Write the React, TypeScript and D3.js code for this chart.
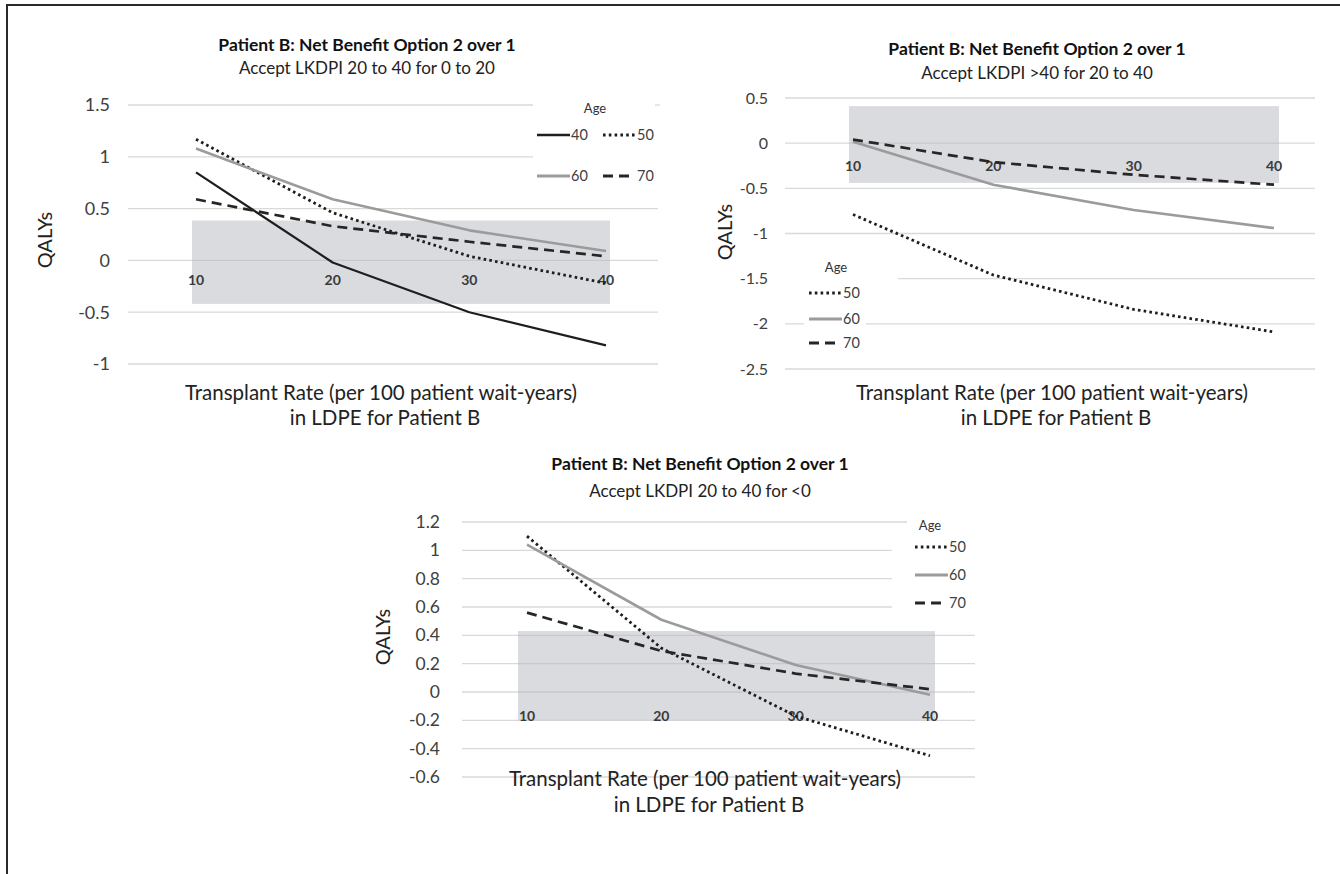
import React from 'react';
import * as d3 from 'd3';

const rates = [10, 20, 30, 40];

// Panel 1: Accept LKDPI 20 to 40 for 0 to 20
const p1Age40 = [0.85, -0.02, -0.5, -0.82];
const p1Age50 = [1.17, 0.46, 0.04, -0.22];
const p1Age60 = [1.08, 0.59, 0.29, 0.09];
const p1Age70 = [0.59, 0.33, 0.18, 0.04];
const p1Ticks = [1.5, 1, 0.5, 0, -0.5, -1];
const p1Band = [-0.42, 0.385];

// Panel 2: Accept LKDPI >40 for 20 to 40
const p2Age50 = [-0.79, -1.46, -1.84, -2.09];
const p2Age60 = [0.015, -0.46, -0.74, -0.94];
const p2Age70 = [0.04, -0.21, -0.35, -0.46];
const p2Ticks = [0.5, 0, -0.5, -1, -1.5, -2, -2.5];
const p2Band = [-0.44, 0.41];

// Panel 3: Accept LKDPI 20 to 40 for <0
const p3Age50 = [1.1, 0.31, -0.17, -0.45];
const p3Age60 = [1.04, 0.51, 0.19, -0.02];
const p3Age70 = [0.56, 0.29, 0.13, 0.02];
const p3Ticks = [1.2, 1, 0.8, 0.6, 0.4, 0.2, 0, -0.2, -0.4, -0.6];
const p3Band = [-0.2, 0.43];

const titleText = 'Patient B: Net Benefit Option 2 over 1';
const xTitle1 = 'Transplant Rate (per 100 patient wait-years)';
const xTitle2 = 'in LDPE for Patient B';

const FONT = 'Lato, "Open Sans", sans-serif';

// legend sample length is per style so dashes end cleanly
const ageStyle = {
  40: { stroke: '#1e1e1e', width: 2.2, dash: null, len: 33 },
  50: { stroke: '#1e1e1e', width: 2.8, dash: '2.6 3.2', len: 33 },
  60: { stroke: '#9b9b9b', width: 2.6, dash: null, len: 33 },
  70: { stroke: '#262626', width: 2.7, dash: '10 6', len: 26 },
};

const panels = [
  {
    subtitle: 'Accept LKDPI 20 to 40 for 0 to 20',
    series: [
      { age: 40, values: p1Age40 },
      { age: 50, values: p1Age50 },
      { age: 60, values: p1Age60 },
      { age: 70, values: p1Age70 },
    ],
    ticks: p1Ticks,
    band: p1Band,
    xRange: [196, 606],
    yDomain: [-1, 1.5],
    yRange: [364, 105],
    grid: [128, 658],
    gridCut: { '1.5': [[128, 533], [655, 660]], '1': [[128, 533]] },
    bandX: [192, 610],
    tickX: 110,
    tickSize: 18,
    xLabelY: 285,
    qaly: [45, 240],
    title: [367, 51],
    sub: 74,
    xt: [381, 400, 425],
    legend: [
      { age: 40, x: 537, y: 135 },
      { age: 50, x: 603, y: 135 },
      { age: 60, x: 537, y: 176 },
      { age: 70, x: 603, y: 176 },
    ],
    ageLabel: [595, 108],
  },
  {
    subtitle: 'Accept LKDPI >40 for 20 to 40',
    series: [
      { age: 50, values: p2Age50 },
      { age: 60, values: p2Age60 },
      { age: 70, values: p2Age70 },
    ],
    ticks: p2Ticks,
    band: p2Band,
    xRange: [853, 1274],
    yDomain: [-2.5, 0.5],
    yRange: [369, 98],
    grid: [785, 1315],
    gridCut: { '-1.5': [[898, 1315]], '-2': [[785, 804], [866, 1315]] },
    bandX: [849, 1279],
    tickX: 768,
    tickSize: 16,
    xLabelY: 171,
    qaly: [725, 232],
    title: [1037, 55],
    sub: 79,
    xt: [1052, 400, 425],
    legend: [
      { age: 50, x: 809, y: 293 },
      { age: 60, x: 809, y: 319 },
      { age: 70, x: 809, y: 343 },
    ],
    ageLabel: [836, 267],
  },
  {
    subtitle: 'Accept LKDPI 20 to 40 for <0',
    series: [
      { age: 50, values: p3Age50 },
      { age: 60, values: p3Age60 },
      { age: 70, values: p3Age70 },
    ],
    ticks: p3Ticks,
    band: p3Band,
    xRange: [527, 930],
    yDomain: [-0.6, 1.2],
    yRange: [777, 522],
    grid: [462, 975],
    gridCut: { '1.2': [[462, 907]], '1': [[462, 892]], '0.8': [[462, 892]], '0.6': [[462, 892]] },
    bandX: [518, 935],
    tickX: 440,
    tickSize: 17.5,
    xLabelY: 721,
    qaly: [383, 637],
    title: [700, 470],
    sub: 497,
    xt: [705, 786, 812],
    legend: [
      { age: 50, x: 915, y: 547 },
      { age: 60, x: 915, y: 575 },
      { age: 70, x: 915, y: 603 },
    ],
    ageLabel: [930, 525],
  },
];

function Panel({ p }) {
  const x = d3.scalePoint().domain(rates.map(String)).range(p.xRange);
  const y = d3.scaleLinear().domain(p.yDomain).range(p.yRange);
  const line = d3
    .line()
    .x((d, i) => x(String(rates[i])))
    .y((d) => y(d));

  return (
    <g>
      {p.ticks.map((t) => {
        const segs = p.gridCut[String(t)] || [p.grid];
        return segs.map((s, j) => (
          <line key={`g${t}-${j}`} x1={s[0]} x2={s[1]} y1={y(t)} y2={y(t)} stroke="#d9d9d9" strokeWidth={1.3} />
        ));
      })}
      <rect
        x={p.bandX[0]}
        y={y(p.band[1])}
        width={p.bandX[1] - p.bandX[0]}
        height={y(p.band[0]) - y(p.band[1])}
        fill="#b4b8c0"
        fillOpacity={0.5}
      />
      {p.ticks.map((t) => (
        <text key={`t${t}`} x={p.tickX} y={y(t)} dy="0.35em" textAnchor="end" fontSize={p.tickSize} fill="#404040" fontFamily={FONT}>
          {String(t)}
        </text>
      ))}
      {rates.map((r) => (
        <text key={`x${r}`} x={x(String(r))} y={p.xLabelY} textAnchor="middle" fontSize={14} fontWeight="bold" fill="#3a3a3a" fontFamily={FONT}>
          {r}
        </text>
      ))}
      {p.series.map((s) => {
        const st = ageStyle[s.age];
        return (
          <path
            key={`s${s.age}`}
            d={line(s.values)}
            fill="none"
            stroke={st.stroke}
            strokeWidth={st.width}
            strokeDasharray={st.dash || undefined}
            strokeLinejoin="round"
          />
        );
      })}
      <text x={p.ageLabel[0]} y={p.ageLabel[1]} dy="0.35em" textAnchor="middle" fontSize={13} fill="#333" fontFamily={FONT}>
        Age
      </text>
      {p.legend.map((l) => {
        const st = ageStyle[l.age];
        return (
          <g key={`l${l.age}`}>
            <line
              x1={l.x}
              x2={l.x + st.len}
              y1={l.y}
              y2={l.y}
              stroke={st.stroke}
              strokeWidth={st.width + 0.3}
              strokeDasharray={st.dash || undefined}
            />
            <text x={l.x + 34} y={l.y} dy="0.35em" fontSize={14.5} fill="#404040" fontFamily={FONT}>
              {l.age}
            </text>
          </g>
        );
      })}
      <text
        transform={`translate(${p.qaly[0]},${p.qaly[1]}) rotate(-90)`}
        dy="0.35em"
        textAnchor="middle"
        fontSize={20}
        fill="#222"
        fontFamily={FONT}
      >
        QALYs
      </text>
      <text x={p.title[0]} y={p.title[1]} textAnchor="middle" fontSize={17.5} fontWeight="bold" fill="#111" fontFamily={FONT}>
        {titleText}
      </text>
      <text x={p.title[0]} y={p.sub} textAnchor="middle" fontSize={17} fill="#222" fontFamily={FONT}>
        {p.subtitle}
      </text>
      <text x={p.xt[0]} y={p.xt[1]} textAnchor="middle" fontSize={20.5} fill="#222" fontFamily={FONT}>
        {xTitle1}
      </text>
      <text x={p.xt[0] + 4} y={p.xt[2]} textAnchor="middle" fontSize={20.5} fill="#222" fontFamily={FONT}>
        {xTitle2}
      </text>
    </g>
  );
}

export default function App() {
  return (
    <div style={{ position: 'absolute', left: 0, top: 0 }}>
      <svg width={1340} height={874} style={{ display: 'block', background: '#fff' }}>
        <line x1={6} x2={1340} y1={5} y2={5} stroke="#2a2a2a" strokeWidth={2} />
        <line x1={7} x2={7} y1={4} y2={874} stroke="#2a2a2a" strokeWidth={2} />
        {panels.map((p, i) => (
          <Panel key={i} p={p} />
        ))}
      </svg>
    </div>
  );
}
